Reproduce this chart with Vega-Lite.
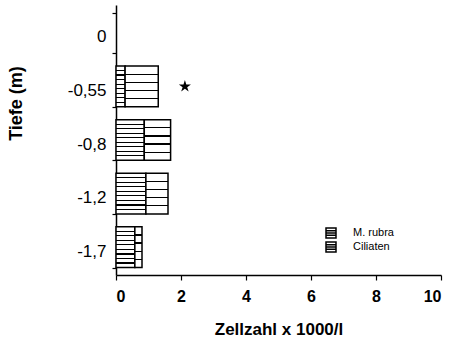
{
  "$schema": "https://vega.github.io/schema/vega-lite/v6.json",
  "autosize": {"type": "none"},
  "padding": {"left": 116, "top": 5, "right": 21, "bottom": 72},
  "width": 325,
  "height": 270,
  "background": "white",
  "config": {
    "view": {"stroke": null},
    "font": "Liberation Sans",
    "axis": {"domainColor": "black", "tickColor": "black", "labelColor": "black", "titleColor": "black", "grid": false, "domainWidth": 1.5, "tickWidth": 1.2}
  },
  "datasets": {
    "bars": [
      {"depth": "-0,55", "series": "M. rubra", "value": 0.28},
      {"depth": "-0,55", "series": "Ciliaten", "value": 1.02},
      {"depth": "-0,8", "series": "M. rubra", "value": 0.87},
      {"depth": "-0,8", "series": "Ciliaten", "value": 0.81},
      {"depth": "-1,2", "series": "M. rubra", "value": 0.92},
      {"depth": "-1,2", "series": "Ciliaten", "value": 0.68},
      {"depth": "-1,7", "series": "M. rubra", "value": 0.58},
      {"depth": "-1,7", "series": "Ciliaten", "value": 0.22}
    ],
    "star": [
      {"depth": "-0,55", "value": 2.12}
    ]
  },
  "layer": [
    {
      "data": {"name": "bars"},
      "mark": {"type": "bar", "strokeWidth": 1.5},
      "encoding": {
        "y": {
          "field": "depth", "type": "nominal",
          "scale": {"domain": ["0", "-0,55", "-0,8", "-1,2", "-1,7"], "paddingInner": 0.24, "paddingOuter": 0.14},
          "axis": {"title": "Tiefe  (m)", "titleFontSize": 18, "titleFontWeight": "bold", "titleX": -91, "titleY": 98, "labelFontSize": 17, "labelFontWeight": "normal", "labelPadding": 6, "labelOffset": 4, "tickSize": 4, "tickBand": "extent"}
        },
        "x": {
          "field": "value", "type": "quantitative", "stack": "zero",
          "scale": {"domain": [0, 10], "nice": false},
          "axis": {"title": "Zellzahl x 1000/l", "titleFontSize": 17, "titleFontWeight": "bold", "titlePadding": 17, "values": [0, 2, 4, 6, 8, 10], "labelFontSize": 16, "labelFontWeight": "bold", "labelPadding": 8, "tickSize": 5}
        },
        "stroke": {
          "field": "series", "type": "nominal",
          "scale": {"domain": ["M. rubra", "Ciliaten"], "range": ["black", "black"]},
          "legend": {
            "title": null, "orient": "none", "legendX": 209, "legendY": 222,
            "symbolType": "M-1,-1H1V1H-1ZM-1,-0.45H1M-1,0H1M-1,0.45H1", "symbolSize": 100, "symbolStrokeWidth": 1.5, "symbolFillColor": "white", "labelFontSize": 11, "labelColor": "black", "rowPadding": -3, "labelOffset": 16,
            "encode": {
              "symbols": {
                "update": {
                  "shape": {"signal": "datum.value === 'M. rubra' ? 'M-1,-1H1V1H-1ZM-1,-0.45H1M-1,0H1M-1,0.45H1' : 'M-1,-1H1V1H-1ZM-1,0.45H1'"}
                }
              }
            }
          }
        },
        "fill": {
          "condition": {"test": "datum.series === 'M. rubra'", "value": {"gradient": "linear", "x1": 0, "y1": 0, "x2": 0, "y2": 1, "stops": [
            {"offset": 0, "color": "white"},
            {"offset": 0.096, "color": "white"}, {"offset": 0.096, "color": "black"}, {"offset": 0.126, "color": "black"}, {"offset": 0.126, "color": "white"},
            {"offset": 0.207, "color": "white"}, {"offset": 0.207, "color": "black"}, {"offset": 0.237, "color": "black"}, {"offset": 0.237, "color": "white"},
            {"offset": 0.318, "color": "white"}, {"offset": 0.318, "color": "black"}, {"offset": 0.348, "color": "black"}, {"offset": 0.348, "color": "white"},
            {"offset": 0.429, "color": "white"}, {"offset": 0.429, "color": "black"}, {"offset": 0.459, "color": "black"}, {"offset": 0.459, "color": "white"},
            {"offset": 0.541, "color": "white"}, {"offset": 0.541, "color": "black"}, {"offset": 0.571, "color": "black"}, {"offset": 0.571, "color": "white"},
            {"offset": 0.652, "color": "white"}, {"offset": 0.652, "color": "black"}, {"offset": 0.682, "color": "black"}, {"offset": 0.682, "color": "white"},
            {"offset": 0.763, "color": "white"}, {"offset": 0.763, "color": "black"}, {"offset": 0.793, "color": "black"}, {"offset": 0.793, "color": "white"},
            {"offset": 0.874, "color": "white"}, {"offset": 0.874, "color": "black"}, {"offset": 0.904, "color": "black"}, {"offset": 0.904, "color": "white"},
            {"offset": 1, "color": "white"}
          ]}},
          "value": {"gradient": "linear", "x1": 0, "y1": 0, "x2": 0, "y2": 1, "stops": [
            {"offset": 0, "color": "white"},
            {"offset": 0.185, "color": "white"}, {"offset": 0.185, "color": "black"}, {"offset": 0.215, "color": "black"}, {"offset": 0.215, "color": "white"},
            {"offset": 0.385, "color": "white"}, {"offset": 0.385, "color": "black"}, {"offset": 0.415, "color": "black"}, {"offset": 0.415, "color": "white"},
            {"offset": 0.585, "color": "white"}, {"offset": 0.585, "color": "black"}, {"offset": 0.615, "color": "black"}, {"offset": 0.615, "color": "white"},
            {"offset": 0.785, "color": "white"}, {"offset": 0.785, "color": "black"}, {"offset": 0.815, "color": "black"}, {"offset": 0.815, "color": "white"},
            {"offset": 1, "color": "white"}
          ]}
        },
        "order": {"field": "series", "sort": "descending"}
      }
    },
    {
      "data": {"name": "star"},
      "mark": {"type": "point", "filled": true, "color": "black", "opacity": 1, "size": 160, "shape": "M0,-1L0.2245,-0.309L0.951,-0.309L0.363,0.118L0.588,0.809L0,0.382L-0.588,0.809L-0.363,0.118L-0.951,-0.309L-0.2245,-0.309Z"},
      "encoding": {
        "y": {"field": "depth", "type": "nominal"},
        "x": {"field": "value", "type": "quantitative"}
      }
    }
  ]
}
